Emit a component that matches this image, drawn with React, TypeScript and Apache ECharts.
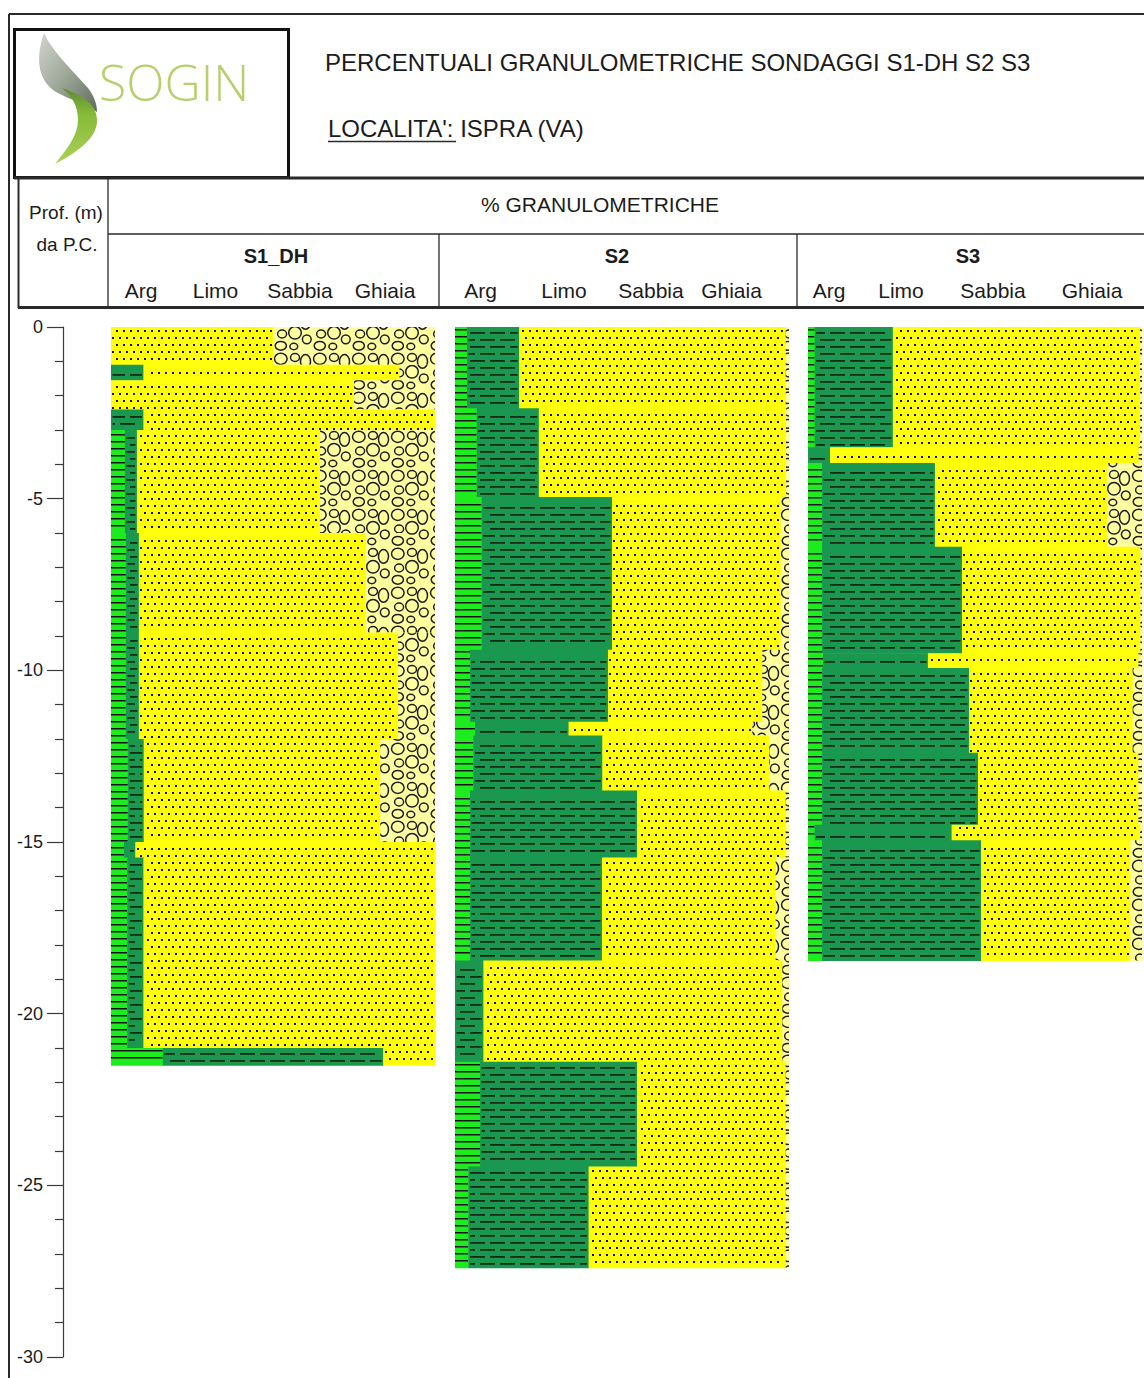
import React, { useEffect, useRef } from "react";
import * as echarts from "echarts";

// ---------------- DATA ----------------
const DEPTH_MIN = -30;
const DEPTH_MAX = 0;
const DEPTH_STEP = 5;

const TITLE = "PERCENTUALI GRANULOMETRICHE SONDAGGI S1-DH S2 S3";
const LOCALITY_TEXT = "LOCALITA': ISPRA (VA)";
const HEADER = "% GRANULOMETRICHE";
const DEPTH_TITLE = ["Prof. (m)", "da P.C."];
const LOGO_TEXT = "SOGIN";

const BOREHOLES = ["S1_DH", "S2", "S3"];
const FRACTIONS = ["Arg", "Limo", "Sabbia", "Ghiaia"];

// depth limits (m below ground) of each sampled interval
const S1_DEPTHS = [0, 1.1, 1.55, 2.4, 3.0, 6.0, 8.9, 12.0, 15.0, 15.45, 21.0, 21.5];
const S1_ARG = [0, 0, 0, 0, 4.3, 4.6, 4.6, 5.2, 4, 5, 16];
const S1_LIMO = [0, 10, 0, 10, 3.7, 4, 4, 4.9, 3.5, 5, 68];
const S1_SABBIA = [50, 79, 75, 90, 56.5, 70, 80, 73, 92.5, 90, 16];
const S1_GHIAIA = [50, 11, 25, 0, 35.5, 21.4, 11.4, 16.9, 0, 0, 0];

const S2_DEPTHS = [0, 2.37, 4.95, 9.4, 11.5, 11.9, 13.5, 15.45, 18.45, 21.4, 24.45, 27.4];
const S2_ARG = [3.6, 6.5, 8, 4.5, 6, 5.5, 4.5, 4.5, 0, 7.5, 4];
const S2_LIMO = [15.6, 18.6, 39, 41.3, 28, 38.6, 50, 39.5, 8.5, 47, 36];
const S2_SABBIA = [79.8, 74, 50.5, 46.2, 55, 50, 44.5, 52, 89.5, 44.5, 59];
const S2_GHIAIA = [1, 0.9, 2.5, 8, 11, 5.9, 1, 4, 2, 1, 1];

const S3_DEPTHS = [0, 3.5, 3.96, 6.4, 9.5, 9.93, 12.4, 14.5, 14.95, 18.45];
const S3_ARG = [2, 0, 4.2, 4.2, 4.5, 4.2, 4.2, 2, 4.2];
const S3_LIMO = [23.4, 6.6, 33.8, 41.9, 31.4, 44, 46.7, 41, 47.6];
const S3_SABBIA = [74, 92.4, 51.5, 53.4, 63, 49, 48, 56.4, 44.7];
const S3_GHIAIA = [0.6, 1, 10.5, 0.5, 1.1, 2.8, 1.1, 0.6, 3.5];

const SERIES_DATA = [
  { depths: S1_DEPTHS, arg: S1_ARG, limo: S1_LIMO, sabbia: S1_SABBIA, ghiaia: S1_GHIAIA },
  { depths: S2_DEPTHS, arg: S2_ARG, limo: S2_LIMO, sabbia: S2_SABBIA, ghiaia: S2_GHIAIA },
  { depths: S3_DEPTHS, arg: S3_ARG, limo: S3_LIMO, sabbia: S3_SABBIA, ghiaia: S3_GHIAIA },
];

// ---------------- LAYOUT / STYLE ----------------
const FONT = "'Liberation Sans', Arial, Helvetica, sans-serif";
const TEXT_COLOR = "#1c1c1c";
const LINE_COLOR = "#2a2a2a";
const PLOT_TOP = 327;
const PLOT_H = 1030;
const COLS = [
  { left: 111, width: 324 },
  { left: 455, width: 334 },
  { left: 808, width: 334 },
];
const BORE_CX = [276, 617, 968];
const FRAC_CX = [
  [141, 215.5, 300, 385],
  [480.5, 564, 651, 731.5],
  [829, 901, 993, 1092],
];
const FILLS = ["#1EEB1E", "#1A9850", "#FFFF0A", "#FFFFA0"];

// gravel motif inside a 39px tile: [cx, cy, rx, ry]
const GRAVEL_TILE = 39;
const GRAVEL_MOTIF = [
  [7.8, 7.8, 6.3, 5.6],
  [22, 6.5, 4.5, 3.9],
  [32.5, 10.4, 5, 6.8],
  [9.1, 22, 4.5, 3.9],
  [22, 20.8, 6.3, 6.3],
  [33.8, 27.3, 4.4, 4.4],
  [7.8, 33.8, 5.6, 4.4],
  [20.8, 34.5, 3.9, 3.2],
];

const f = (n: number) => (Math.round(n * 100) / 100).toString();

function argPath(x0: number, y0: number, x1: number, y1: number) {
  const pitch = 7;
  const t = 1.4;
  let d = "";
  for (let k = Math.ceil((y0 + 1) / pitch); k * pitch + t <= y1 - 0.5; k++) {
    const y = k * pitch;
    d += `M${f(x0)} ${y}H${f(x1)}V${f(y + t)}H${f(x0)}Z`;
  }
  return d;
}

function limoPath(x0: number, y0: number, x1: number, y1: number) {
  const pitch = 7;
  const dash = 15;
  const gap = 5;
  const per = dash + gap;
  const t = 1.8;
  let d = "";
  for (let k = Math.ceil((y0 + 2) / pitch); k * pitch + t <= y1 - 1; k++) {
    const y = k * pitch + 3;
    if (y + t > y1 - 1) continue;
    const off = (k % 2) * 10;
    for (let j = Math.floor((x0 - off) / per) - 1; j * per + off < x1; j++) {
      const a = Math.max(x0 + 1.5, j * per + off);
      const b = Math.min(x1 - 1.5, j * per + off + dash);
      if (b - a < 2) continue;
      d += `M${f(a)} ${y}H${f(b)}V${f(y + t)}H${f(a)}Z`;
    }
  }
  return d;
}

function sandPath(x0: number, y0: number, x1: number, y1: number) {
  const p = 7;
  const s = 2;
  let d = "";
  for (let k = Math.ceil((y0 + 1) / p); k * p + s <= y1 - 1; k++) {
    const y = k * p + 1;
    const off = (k % 2) * 4;
    for (let j = Math.ceil((x0 + 1 - off) / p); j * p + off + s <= x1 - 1; j++) {
      const x = j * p + off;
      d += `M${x} ${y}h${s}v${s}h-${s}z`;
    }
  }
  return d;
}

function gravelPath(x0: number, y0: number, x1: number, y1: number) {
  let d = "";
  const ty0 = Math.floor(y0 / GRAVEL_TILE) - 1;
  const ty1 = Math.ceil(y1 / GRAVEL_TILE) + 1;
  const tx0 = Math.floor(x0 / GRAVEL_TILE) - 1;
  const tx1 = Math.ceil(x1 / GRAVEL_TILE) + 1;
  for (let ty = ty0; ty <= ty1; ty++) {
    for (let tx = tx0; tx <= tx1; tx++) {
      for (const m of GRAVEL_MOTIF) {
        const cx = tx * GRAVEL_TILE + m[0];
        const cy = ty * GRAVEL_TILE + m[1];
        const rx = m[2];
        const ry = m[3];
        if (cy + ry < y0 || cy - ry > y1) continue;
        if (cx + rx < x0 || cx - rx > x1) continue;
        d += `M${f(cx - rx)} ${f(cy)}A${rx} ${ry} 0 1 0 ${f(cx + rx)} ${f(cy)}A${rx} ${ry} 0 1 0 ${f(cx - rx)} ${f(cy)}Z`;
      }
    }
  }
  return d;
}

const TEXTURES = [argPath, limoPath, sandPath, gravelPath];

function renderInterval(params: any, api: any) {
  const top = api.value(0) as number;
  const bot = api.value(1) as number;
  const vals = [api.value(2), api.value(3), api.value(4), api.value(5)] as number[];
  const children: any[] = [];
  let cum = 0;
  for (let k = 0; k < 4; k++) {
    const v = vals[k];
    if (!(v > 0)) continue;
    const pA = api.coord([cum, -top]);
    const pB = api.coord([cum + v, -bot]);
    cum += v;
    const x0 = pA[0];
    const y0 = pA[1];
    const x1 = pB[0];
    const y1 = pB[1];
    children.push({
      type: "rect",
      shape: { x: x0, y: y0, width: x1 - x0 + 0.6, height: y1 - y0 + 0.6 },
      style: { fill: FILLS[k] },
    });
    const d = TEXTURES[k](x0, y0, x1, y1);
    if (d) {
      children.push({
        type: "path",
        shape: { pathData: d },
        clipPath: { type: "rect", shape: { x: x0, y: y0, width: x1 - x0, height: y1 - y0 } },
        style:
          k === 3
            ? { fill: "none", stroke: "#1e1e1e", lineWidth: 1.5 }
            : { fill: k === 1 ? "#0c2a14" : "#111111", stroke: "none" },
      });
    }
  }
  return { type: "group", children };
}

// ---------------- LOGO SHAPES ----------------
const SWOOSH_GRAY =
  "M44 33 C50 48 70 68 88 88 C94 96 97 104 97 112 C88 104 70 100 56 92 C40 82 34 62 44 33 Z";
const SWOOSH_GREEN =
  "M62 88 C82 95 98 104 97 122 C96 140 74 154 55 164 C66 150 78 136 78 120 C78 106 72 96 62 88 Z";
let shapesRegistered = false;
function registerShapes() {
  if (shapesRegistered) return;
  echarts.graphic.registerShape("swooshGray", (echarts.graphic as any).extendPath(SWOOSH_GRAY, {}));
  echarts.graphic.registerShape("swooshGreen", (echarts.graphic as any).extendPath(SWOOSH_GREEN, {}));
  shapesRegistered = true;
}

function line(x1: number, y1: number, x2: number, y2: number, w: number) {
  return {
    type: "line",
    silent: true,
    shape: { x1, y1, x2, y2 },
    style: { stroke: LINE_COLOR, lineWidth: w },
  };
}

function text(t: string, x: number, y: number, size: number, align: string, weight: string = "normal", color: string = TEXT_COLOR, family: string = FONT) {
  return {
    type: "text",
    silent: true,
    x,
    y,
    style: {
      text: t,
      fill: color,
      fontSize: size,
      fontFamily: family,
      fontWeight: weight,
      textAlign: align,
      textVerticalAlign: "middle",
    },
  };
}

function buildOption() {
  const graphic: any[] = [];
  // frame
  graphic.push(line(9, 14, 1144, 14, 2));
  graphic.push(line(9, 14, 9, 1378, 2));
  // logo box
  graphic.push({
    type: "rect",
    silent: true,
    shape: { x: 14.5, y: 29.5, width: 274, height: 148 },
    style: { fill: "#fff", stroke: "#111", lineWidth: 3 },
  });
  graphic.push({
    type: "swooshGray",
    x: 0,
    y: 0,
    silent: true,
    style: {
      fill: new echarts.graphic.LinearGradient(0, 0, 1, 1, [
        { offset: 0, color: "#D2D5CD" },
        { offset: 0.5, color: "#9DA798" },
        { offset: 1, color: "#5E6D5A" },
      ]),
    },
  });
  graphic.push({
    type: "swooshGreen",
    x: 0,
    y: 0,
    silent: true,
    style: {
      fill: new echarts.graphic.LinearGradient(0, 0, 0, 1, [
        { offset: 0, color: "#5F8A33" },
        { offset: 0.35, color: "#86BB38" },
        { offset: 1, color: "#ACD057" },
      ]),
    },
  });
  graphic.push(text(LOGO_TEXT, 99, 82, 50, "left", "300", "#B7D06C", "'Open Sans', 'Noto Sans', sans-serif"));
  // title
  graphic.push(text(TITLE, 325, 62, 24, "left"));
  graphic.push(text(LOCALITY_TEXT, 328, 128, 24, "left"));
  graphic.push(line(328, 141.5, 456, 141.5, 1.5));
  // header table lines
  graphic.push(line(14, 178, 1144, 178, 3));
  graphic.push(line(18.5, 178, 18.5, 308, 2));
  graphic.push(line(18, 307.5, 1144, 307.5, 3));
  graphic.push(line(108, 178, 108, 307, 1.3));
  graphic.push(line(108, 234, 1144, 234, 1.3));
  graphic.push(line(439, 234, 439, 307, 1.3));
  graphic.push(line(797, 234, 797, 307, 1.3));
  // header texts
  graphic.push(text(DEPTH_TITLE[0], 66, 212, 19, "center"));
  graphic.push(text(DEPTH_TITLE[1], 67, 244, 19, "center"));
  graphic.push(text(HEADER, 600, 204, 21, "center"));
  BOREHOLES.forEach((b, i) => {
    graphic.push(text(b, BORE_CX[i], 256, 20, "center", "bold"));
    FRACTIONS.forEach((fr, j) => {
      graphic.push(text(fr, FRAC_CX[i][j], 290, 21, "center"));
    });
  });

  const series = SERIES_DATA.map((s, i) => ({
    type: "custom",
    name: BOREHOLES[i],
    xAxisIndex: i,
    yAxisIndex: i,
    silent: true,
    clip: false,
    renderItem: renderInterval,
    data: s.arg.map((_, r) => [s.depths[r], s.depths[r + 1], s.arg[r], s.limo[r], s.sabbia[r], s.ghiaia[r]]),
  }));

  return {
    animation: false,
    backgroundColor: "#ffffff",
    grid: COLS.map((c) => ({
      left: c.left,
      top: PLOT_TOP,
      width: c.width,
      height: PLOT_H,
      containLabel: false,
      outerBoundsMode: "none",
    })),
    xAxis: COLS.map((_, i) => ({ type: "value", gridIndex: i, min: 0, max: 100, show: false })),
    yAxis: COLS.map((_, i) =>
      i === 0
        ? {
            type: "value",
            gridIndex: 0,
            min: DEPTH_MIN,
            max: DEPTH_MAX,
            interval: DEPTH_STEP,
            position: "left",
            offset: 48,
            axisLine: { show: true, onZero: false, lineStyle: { color: "#3a3a3a", width: 1.2 } },
            axisTick: { show: true, length: 16, lineStyle: { color: "#3a3a3a", width: 1.2 } },
            minorTick: { show: true, splitNumber: 5, length: 8, lineStyle: { color: "#3a3a3a", width: 1.2 } },
            splitLine: { show: false },
            minorSplitLine: { show: false },
            axisLabel: { margin: 20, fontSize: 18, color: TEXT_COLOR, fontFamily: FONT },
          }
        : { type: "value", gridIndex: i, min: DEPTH_MIN, max: DEPTH_MAX, show: false }
    ),
    series,
    graphic,
  };
}

export default function App() {
  const ref = useRef<HTMLDivElement>(null);
  useEffect(() => {
    if (!ref.current) return;
    registerShapes();
    const chart = echarts.init(ref.current, undefined, { renderer: "svg" });
    chart.setOption(buildOption() as any);
    return () => chart.dispose();
  }, []);
  return (
    <div
      ref={ref}
      style={{ position: "absolute", left: 0, top: 0, width: 1144, height: 1378, background: "#fff" }}
    />
  );
}
